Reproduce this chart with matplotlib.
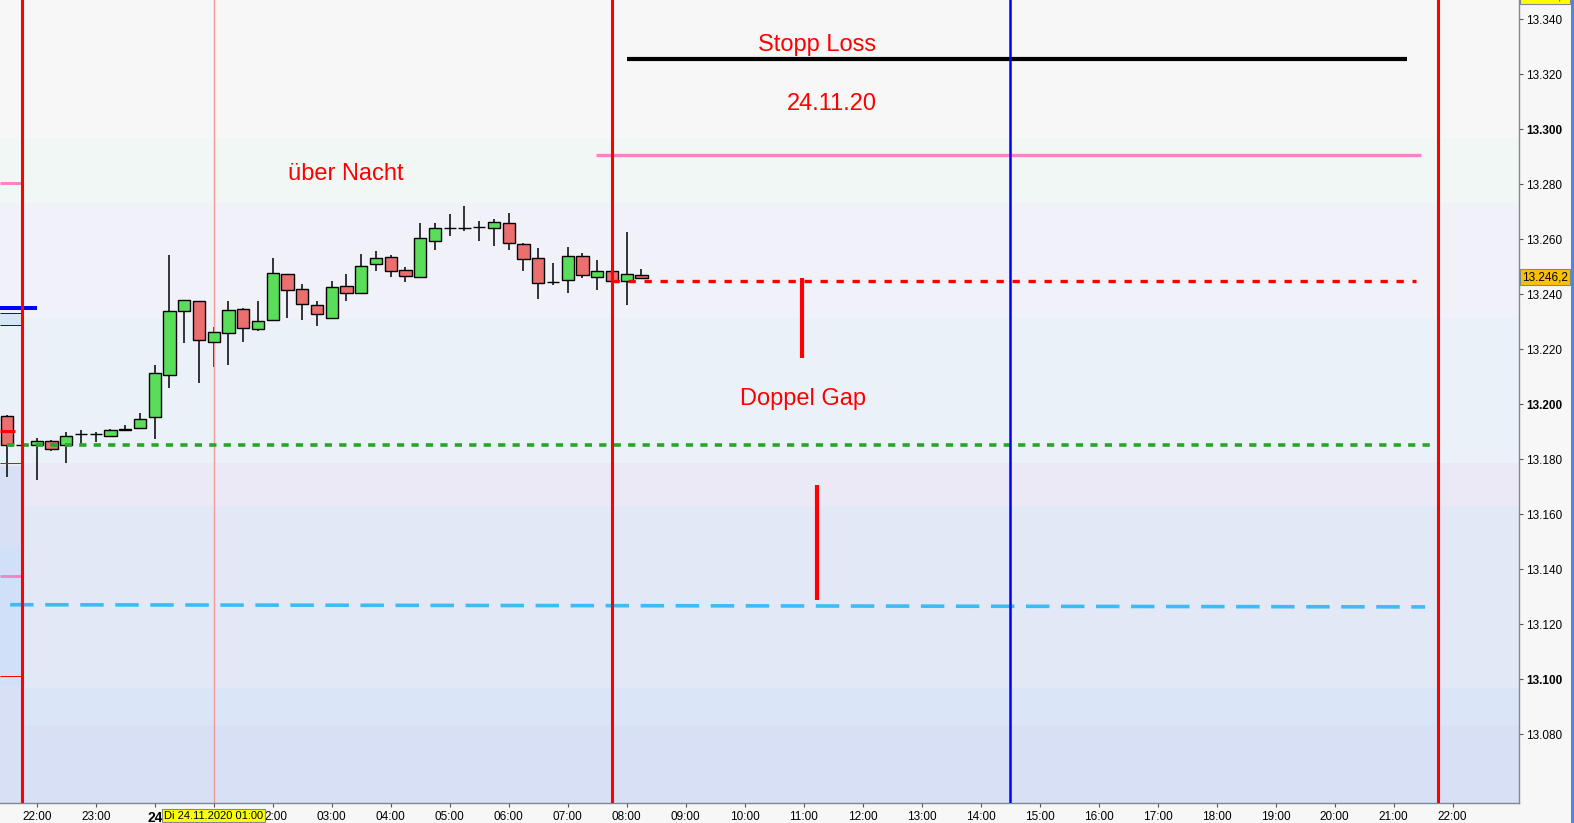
import pandas as pd
import matplotlib
matplotlib.use("Agg")
import matplotlib.pyplot as plt
import matplotlib.dates as mdates
from matplotlib.patches import Rectangle

plt.rcParams["font.family"] = ["Liberation Sans", "DejaVu Sans"]

# 15-Minuten-Kerzen, 23.11.2020 21:30 bis 24.11.2020 08:15
candle_start = "2020-11-23 21:30"
opens = [13195.6, 13185.3, 13185.1, 13186.5, 13185.1, 13189.3, 13189.1, 13188.6, 13190.8, 13191.3,
         13195.3, 13210.5, 13233.8, 13237.5, 13222.5, 13225.8, 13234.5, 13227.3, 13230.5, 13247.3,
         13241.8, 13236.0, 13231.3, 13243.0, 13240.6, 13251.1, 13253.6, 13248.8, 13246.2, 13259.3,
         13264.0, 13264.2, 13264.6, 13264.0, 13265.8, 13258.2, 13253.1, 13244.4, 13245.1, 13253.8,
         13246.2, 13248.4, 13244.7, 13246.9]
highs = [13196.1, 13185.6, 13187.8, 13187.0, 13189.9, 13190.6, 13189.9, 13191.0, 13192.5, 13196.8,
         13214.3, 13254.3, 13237.8, 13237.5, 13228.0, 13237.6, 13234.9, 13237.6, 13253.2, 13247.3,
         13243.7, 13237.6, 13244.8, 13247.4, 13254.7, 13255.7, 13254.3, 13249.9, 13265.9, 13265.9,
         13269.2, 13272.1, 13266.7, 13267.4, 13269.6, 13258.5, 13256.8, 13251.4, 13257.2, 13255.0,
         13252.5, 13248.4, 13262.7, 13249.2]
lows = [13173.7, 13185.0, 13172.5, 13183.1, 13178.8, 13185.3, 13186.3, 13188.6, 13190.6, 13191.3,
        13187.4, 13206.0, 13222.4, 13207.9, 13213.7, 13214.4, 13222.8, 13226.8, 13230.5, 13231.5,
        13230.8, 13228.5, 13231.3, 13237.6, 13240.1, 13248.5, 13246.3, 13244.5, 13246.2, 13256.2,
        13261.3, 13263.1, 13259.5, 13257.7, 13256.2, 13248.6, 13238.4, 13243.4, 13240.6, 13245.8,
        13241.7, 13244.7, 13236.2, 13245.8]
closes = [13185.1, 13185.3, 13186.7, 13183.9, 13188.4, 13189.3, 13189.1, 13190.5, 13190.8, 13194.5,
          13211.3, 13233.8, 13237.8, 13223.3, 13226.2, 13234.2, 13227.6, 13230.2, 13247.6, 13241.5,
          13236.4, 13232.7, 13242.5, 13240.6, 13250.3, 13253.2, 13248.6, 13246.5, 13260.4, 13264.0,
          13264.0, 13264.0, 13264.3, 13266.2, 13258.5, 13252.7, 13244.0, 13244.4, 13253.8, 13246.9,
          13248.4, 13244.7, 13247.3, 13245.8]

# Hintergrund-Zonen (Preis unten, Preis oben, Farbe)
band_low = [13273.2, 13231.4, 13178.7, 13163.0, 13096.8, 13083.4, 13040.0]
band_high = [13296.8, 13273.2, 13231.4, 13178.7, 13163.0, 13096.8, 13083.4]
band_colors = ["#f0f7f5", "#f0f1f9", "#eaf1f9", "#ebe9f6", "#e3e8f6", "#dae5f7", "#d8e0f6"]

# Zonen links der ersten Linie
left_low = [13228.7, 13148.1, 13097.6, 13040.0]
left_high = [13233.1, 13177.6, 13148.1, 13097.6]
left_colors = ["#d6e6f8", "#d8e0f5", "#cfe0f8", "#d8e0f5"]

# Senkrechte Linien
vline_times = ["2020-11-23 21:45", "2020-11-24 07:45", "2020-11-24 14:30", "2020-11-24 21:45"]
vline_colors = ["#ff0000", "#ff0000", "#0000ff", "#ff0000"]
cursor_time = "2020-11-24 01:00"

# Waagerechte Linien
stop_loss = 13325.5
stop_range = ["2020-11-24 08:00", "2020-11-24 21:14"]
pink_level = 13290.7
pink_range = ["2020-11-24 07:29", "2020-11-24 21:28"]
red_level = 13244.7
red_range = ["2020-11-24 07:45", "2020-11-24 21:23"]
green_level = 13185.2
green_range = ["2020-11-23 21:30", "2020-11-24 21:45"]
cyan_times = ["2020-11-23 21:33", "2020-11-24 21:32"]
cyan_prices = [13127.1, 13126.3]

# Gap-Markierungen
gap_times = ["2020-11-24 10:58", "2020-11-24 11:14"]
gap_top = [13245.9, 13170.6]
gap_bottom = [13216.8, 13128.8]

# Kurze Marken am linken Rand (Preis, Farbe, Breite px, Ende)
left_marks = [13280.4, 13235.0, 13233.1, 13228.7, 13190.4, 13178.5, 13137.7, 13101.2]
left_mark_colors = ["#f984c4", "#0000ff", "#0000ff", "#0000ff", "#ff0000", "#ff0000", "#f984c4", "#ff0000"]
left_mark_widths = [3, 4, 1, 1, 3, 1, 3, 1]
left_mark_ends = ["2020-11-23 21:44", "2020-11-23 22:00", "2020-11-23 21:44", "2020-11-23 21:44",
                  "2020-11-23 21:38", "2020-11-23 21:44", "2020-11-23 21:44", "2020-11-23 21:44"]

# Beschriftungen (Text, Zeit, Preis der Grundlinie)
notes = ["Stopp Loss", "24.11.20", "über Nacht", "Doppel Gap"]
note_times = ["2020-11-24 11:14", "2020-11-24 11:29", "2020-11-24 03:14", "2020-11-24 10:59"]
note_prices = [13328.5, 13306.9, 13281.4, 13199.6]

yticks = [13080, 13100, 13120, 13140, 13160, 13180, 13200, 13220, 13240, 13260, 13280, 13300, 13320, 13340]
last_price = 13246.2
top_price = 13348.2

x_min = pd.Timestamp("2020-11-23 21:22:40")
x_max = pd.Timestamp("2020-11-24 23:07:30")
y_min, y_max = 13055.0, 13347.0

W, H = 1574, 823
fig = plt.figure(figsize=(W / 100, H / 100), dpi=100, facecolor="#f7f7f7")
ax = fig.add_axes([0, 1 - 803 / H, 1519 / W, 803 / H])
ax.set_facecolor("#f7f7f7")


def d(t):
    return mdates.date2num(pd.Timestamp(t))


def de_num(v):
    # deutsches Zahlenformat 13.246,2
    return f"{v:,.1f}".replace(",", "X").replace(".", ",").replace("X", ".")


# Hintergrund
for lo, hi, c in zip(band_low, band_high, band_colors):
    ax.axhspan(lo, hi, color=c, lw=0, zorder=0)
for lo, hi, c in zip(left_low, left_high, left_colors):
    ax.add_patch(Rectangle((d(x_min), lo), d("2020-11-23 21:44") - d(x_min), hi - lo,
                           color=c, lw=0, zorder=0.5))

# Kerzen
times = pd.date_range(candle_start, periods=len(opens), freq="15min")
xs = mdates.date2num(times)
body_w = 12.5 / (24 * 60)
for x, o, h, l, c in zip(xs, opens, highs, lows, closes):
    ax.vlines(x, l, h, color="black", lw=1.1, zorder=2)
    col = "#5ade5a" if c >= o else "#ec6f6f"
    ax.bar(x, max(abs(c - o), 0.05), bottom=min(o, c), width=body_w, color=col,
           edgecolor="black", linewidth=1.0, zorder=3)

# Cursor-Linie
ax.axvline(d(cursor_time), color="#f39a9a", lw=1.0, zorder=2.5)

# Linien
ax.hlines(stop_loss, d(stop_range[0]), d(stop_range[1]), color="black", lw=3.0, zorder=4)
ax.hlines(pink_level, d(pink_range[0]), d(pink_range[1]), color="#f984c4", lw=2.4, zorder=4)
ax.hlines(red_level, d(red_range[0]), d(red_range[1]), color="#ff0000", lw=2.4,
          linestyles=(0, (2.2, 2.6)), zorder=4)
ax.hlines(green_level, d(green_range[0]), d(green_range[1]), color="#2aa52a", lw=2.6,
          linestyles=(0, (2.0, 2.0)), zorder=4)
ax.plot([d(t) for t in cyan_times], cyan_prices, color="#3cbcf4", lw=2.6,
        dashes=(6.5, 3.2), zorder=4)
for t, top, bot in zip(gap_times, gap_top, gap_bottom):
    ax.vlines(d(t), bot, top, color="#ff0000", lw=3.0, zorder=4)

for p, c, w, e in zip(left_marks, left_mark_colors, left_mark_widths, left_mark_ends):
    ax.hlines(p, d(x_min), d(e), color=c, lw=w * 0.72, zorder=4)

for t, c in zip(vline_times, vline_colors):
    ax.axvline(d(t), color=c, lw=2.2 if c == "#ff0000" else 1.8, zorder=5)

for s, t, p in zip(notes, note_times, note_prices):
    ax.text(d(t), p, s, color="#ff0000", fontsize=17, ha="center", va="baseline", zorder=6)

# Achsen
ax.set_xlim(d(x_min), d(x_max))
ax.set_ylim(y_min, y_max)
for side in ["top", "left"]:
    ax.spines[side].set_visible(False)
for side in ["right", "bottom"]:
    ax.spines[side].set_color("#7a8a9a")
    ax.spines[side].set_linewidth(1.0)

ax.yaxis.tick_right()
ax.set_yticks(yticks)
ax.set_yticklabels([f"{v:,}".replace(",", ".") for v in yticks])
for v, lab in zip(yticks, ax.get_yticklabels()):
    if v % 100 == 0:
        lab.set_fontweight("bold")
        lab.set_fontsize(9.5)
ax.tick_params(axis="y", length=3, width=0.8, color="#555555", pad=2, labelsize=8.5)

hours = pd.date_range("2020-11-23 22:00", "2020-11-24 22:00", freq="h")
hour_labels = [h.strftime("%H:%M") for h in hours]
hour_labels[2] = "24"
hour_labels[3] = ""   # 01:00 -> Cursor-Datum
hour_labels[4] = ""   # 02:00 -> teilweise verdeckt, siehe unten
ax.set_xticks(mdates.date2num(hours))
ax.set_xticklabels(hour_labels)
ax.tick_params(axis="x", length=3, width=0.8, color="#555555", pad=2.5, labelsize=8.5)
xl = ax.get_xticklabels()
xl[2].set_fontweight("bold")
xl[2].set_fontsize(10)

# 02:00 wird vom Cursor-Datum verdeckt, nur "2:00" sichtbar
ax.annotate("2:00", xy=(mdates.date2num(hours[4]), 0), xycoords=ax.get_xaxis_transform(),
            xytext=(2.6, -5.5), textcoords="offset points", ha="center", va="top",
            fontsize=8.5, annotation_clip=False)

# Cursor-Datum unter der Achse
ax.annotate("Di 24.11.2020 01:00", xy=(d(cursor_time), 0), xycoords=ax.get_xaxis_transform(),
            xytext=(0, -5.5), textcoords="offset points", ha="center", va="top",
            fontsize=8, zorder=10, annotation_clip=False,
            bbox=dict(boxstyle="square,pad=0.15", fc="#ffff00", ec="#7a8a9a", lw=0.8))

# Preisschilder rechts
for price, fc in [(last_price, "#f8c000"), (top_price, "#ffff00")]:
    ax.text(1.002, price, de_num(price), transform=ax.get_yaxis_transform(), ha="left",
            va="center", fontsize=8.5, zorder=10, clip_on=False,
            bbox=dict(boxstyle="square,pad=0.15", fc=fc, ec="#7a8a9a", lw=0.8))

fig.add_artist(Rectangle((1571 / W, 0), 3 / W, 1, transform=fig.transFigure,
                         color="#4f86e0", lw=0))

fig.savefig("out.png", dpi=100, facecolor=fig.get_facecolor())
